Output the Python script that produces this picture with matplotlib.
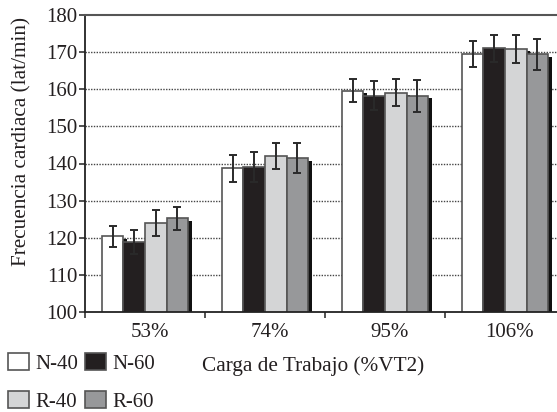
import matplotlib
matplotlib.use("Agg")
import matplotlib.pyplot as plt
from matplotlib.patches import Patch
import numpy as np

plt.rcParams['font.family'] = ['Liberation Serif', 'DejaVu Serif']

categories = ['53%', '74%', '95%', '106%']
series_names = ['N-40', 'N-60', 'R-40', 'R-60']
n40 = [120.4, 138.7, 159.6, 169.5]
n60 = [118.8, 139.1, 158.3, 171.0]
r40 = [124.0, 142.0, 159.1, 170.9]
r60 = [125.2, 141.5, 158.3, 169.4]
n40_err = [2.8, 3.7, 3.1, 3.6]
n60_err = [3.2, 4.0, 3.8, 3.6]
r40_err = [3.5, 3.4, 3.7, 3.7]
r60_err = [3.2, 4.0, 4.3, 4.1]
yticks = [100, 110, 120, 130, 140, 150, 160, 170, 180]

values = [n40, n60, r40, r60]
errors = [n40_err, n60_err, r40_err, r60_err]
fills = ['#ffffff', '#231f20', '#d4d5d6', '#97989a']
txt = '#231f20'

W, H = 557, 412
fig = plt.figure(figsize=(W / 100, H / 100), dpi=100)
ax = fig.add_axes([85 / W, 1 - 312 / H, 480 / W, 297 / H])

x = np.arange(len(categories))
w = 0.18
dx_sh = 0.028
dy_sh = 0.7
z = 2
for i, (vals, errs, fc) in enumerate(zip(values, errors, fills)):
    pos = x + (i - 1.5) * w
    ax.bar(pos + dx_sh, np.array(vals) - dy_sh, width=w, color='#111111',
           edgecolor='none', zorder=z)
    ax.bar(pos, vals, width=w, color=fc, edgecolor='#555555', linewidth=1.2,
           zorder=z + 1)
    z += 2
for i, (vals, errs) in enumerate(zip(values, errors)):
    pos = x + (i - 1.5) * w
    ax.errorbar(pos, vals, yerr=errs, fmt='none', ecolor='#2a2a2a',
                elinewidth=1.4, capsize=3, capthick=1.4, zorder=20)

ax.set_xlim(-0.5, 3.5)
ax.set_ylim(100, 180)
ax.set_yticks(yticks)
ax.set_yticklabels([str(v) for v in yticks], fontsize=15, color=txt)
for yv in yticks[1:-1]:
    ax.axhline(yv, color='#444444', linestyle=(0, (1, 1)), linewidth=1.0,
               zorder=1)

ax.set_xticks(np.arange(-0.5, 4.0, 1.0))
ax.set_xticklabels([])
ax.set_xticks(x + 0.04, minor=True)
ax.set_xticklabels(categories, minor=True, fontsize=15, color=txt)
ax.tick_params(axis='x', which='major', direction='out', length=4, width=1.2,
               color='#333333')
ax.tick_params(axis='x', which='minor', length=0, pad=8)
ax.tick_params(axis='y', direction='out', length=4.3, width=1.2,
               color='#333333', pad=1)

for s in ['left', 'bottom']:
    ax.spines[s].set_linewidth(1.3)
    ax.spines[s].set_color('#222222')
    ax.spines[s].set_zorder(30)
ax.spines['top'].set_linewidth(1.5)
ax.spines['top'].set_color('#555555')
ax.spines['top'].set_zorder(30)
ax.spines['right'].set_visible(False)

fig.text(22 / W, 1 - 141 / H, 'Frecuencia cardiaca (lat/min)', rotation=90,
         ha='center', va='center', fontsize=15.3, color=txt)
fig.text(313 / W, 1 - 366 / H, 'Carga de Trabajo (%VT2)', ha='center',
         va='center', fontsize=15.3, color=txt)

handles = [Patch(facecolor=fills[k], edgecolor='#555555', linewidth=1.2,
                 label=series_names[k]) for k in [0, 2, 1, 3]]
fig.legend(handles=handles, ncol=2, loc='upper left',
           bbox_to_anchor=(8 / W, 1 - 353 / H), frameon=False, borderpad=0,
           borderaxespad=0, fontsize=15, handlelength=1.0, handleheight=0.85,
           handletextpad=0.3, columnspacing=0.35, labelspacing=0.85,
           labelcolor=txt)

fig.savefig('out.png', dpi=100)
